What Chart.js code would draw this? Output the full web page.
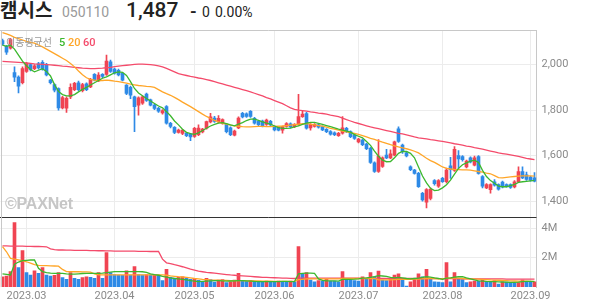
<!DOCTYPE html>
<html>
<head>
<meta charset="utf-8">
<script src="https://cdn.jsdelivr.net/npm/chart.js@4.4.0/dist/chart.umd.min.js"></script>
<style>
  body { margin: 0; background: #fff; width: 594px; height: 304px; overflow: hidden; position: relative; }
  #head { position: absolute; left: 0; top: -3px; white-space: nowrap; font-family: Roboto, sans-serif; color: #222; line-height: 24px; }
  #head span { display: inline-block; }
  #head .name { width: 62px; font-family: 'Noto Sans CJK KR', sans-serif; font-weight: 700; font-size: 19px; }
  #head .code { width: 64px; font-size: 14px; color: #9a9a9a; }
  #head .price { width: 64px; font-size: 21px; font-weight: 500; }
  #head .dash { width: 12px; font-size: 17px; font-weight: 700; }
  #head .chg { font-size: 14px; }
  #legend { position: absolute; left: 6px; top: 33px; white-space: nowrap; line-height: 16px; }
  #legend span { display: inline-block; font-family: Roboto, sans-serif; font-weight: 500; font-size: 11px; }
  #legend .t { width: 53px; font-family: 'Noto Sans CJK KR', sans-serif; font-weight: 400; font-size: 10px; color: #9a9a9a; }
  #mark { position: absolute; left: 5px; top: 195px; font: bold 16px 'Liberation Sans', Arial, sans-serif; color: #c6c6c6; letter-spacing: -0.2px; }
  canvas { position: absolute; left: 0; }
  #priceChart { top: 30px; }
  #volChart { top: 217px; }
</style>
</head>
<body>
<div id="head"><span class="name">캠시스</span><span class="code">050110</span><span class="price">1,487</span><span class="dash">-</span><span class="chg" style="width:13px">0</span><span class="chg">0.00%</span></div>
<canvas id="priceChart" width="594" height="187"></canvas>
<canvas id="volChart" width="594" height="87"></canvas>
<div id="legend"><span class="t">이동평균선</span><span style="width:9px;color:#3cb82e">5</span><span style="width:15px;color:#ffa629">20</span><span style="color:#f44b6b">60</span></div>
<div id="mark">©PAXNet</div>
<script>
// Daily candles, 2023-02-21 .. 2023-09-04 (134 trading days)
const opens = [2105,2080,2072,1965,1945,1920,1970,2000,1982,2003,2010,2000,1932,1912,1895,1810,1808,1858,1890,1920,
  1885,1915,1902,1957,1928,1957,1957,2012,1980,1975,1962,1910,1900,1858,1822,1830,1870,1845,1822,1808,
  1787,1815,1742,1724,1702,1697,1699,1695,1684,1692,1704,1720,1748,1765,1748,1742,1737,1722,1690,1722,
  1786,1784,1795,1764,1750,1752,1737,1750,1728,1725,1712,1728,1740,1727,1737,1771,1785,1722,1728,1735,
  1727,1715,1706,1700,1688,1698,1720,1705,1690,1660,1668,1650,1632,1568,1530,1552,1602,1590,1602,1718,
  1646,1612,1551,1536,1522,1434,1395,1412,1490,1465,1500,1485,1555,1535,1600,1596,1550,1590,1558,1596,
  1508,1458,1450,1485,1472,1484,1472,1472,1462,1485,1530,1515,1505,1502];
const highs = [2112,2085,2115,1990,1950,1990,2010,2005,2000,2010,2018,2005,1935,1915,1898,1860,1858,1915,1922,1928,
  1918,1920,1940,1960,1965,1960,2042,2020,1985,1980,1965,1912,1905,1862,1858,1862,1875,1848,1826,1812,
  1802,1820,1746,1728,1716,1715,1702,1698,1724,1735,1720,1752,1786,1772,1776,1762,1740,1726,1712,1770,
  1790,1788,1798,1768,1754,1756,1760,1755,1732,1729,1730,1745,1744,1741,1869,1796,1790,1741,1741,1739,
  1731,1719,1710,1704,1702,1771,1724,1709,1694,1676,1672,1654,1636,1572,1670,1594,1627,1625,1664,1726,
  1650,1618,1555,1540,1526,1438,1455,1458,1494,1494,1504,1545,1592,1640,1622,1600,1580,1594,1598,1600,
  1512,1477,1476,1495,1476,1488,1476,1476,1490,1551,1550,1528,1509,1525];
const lows = [2085,2045,2068,1925,1875,1915,1965,1972,1978,1980,1975,1950,1915,1880,1800,1805,1790,1850,1885,1885,
  1880,1885,1898,1928,1925,1942,1952,1965,1958,1950,1928,1868,1850,1705,1778,1825,1838,1818,1802,1790,
  1782,1738,1722,1696,1698,1692,1683,1666,1680,1688,1700,1716,1744,1746,1744,1738,1700,1688,1686,1718,
  1766,1768,1768,1738,1732,1726,1733,1730,1708,1708,1698,1725,1722,1723,1733,1768,1716,1712,1725,1721,
  1709,1701,1690,1688,1684,1694,1701,1679,1671,1656,1644,1626,1566,1526,1526,1548,1586,1586,1598,1658,
  1610,1594,1534,1518,1460,1400,1370,1405,1470,1460,1482,1480,1500,1530,1540,1575,1546,1568,1554,1518,
  1458,1454,1435,1466,1448,1458,1461,1456,1458,1481,1498,1491,1488,1484];
const closes = [2090,2055,2110,1945,1905,1982,2005,1978,1995,1985,1980,1955,1920,1888,1810,1855,1852,1900,1918,1890,
  1912,1890,1935,1932,1954,1948,2015,1970,1962,1955,1932,1873,1866,1815,1854,1858,1842,1822,1807,1795,
  1798,1742,1728,1702,1712,1711,1687,1682,1720,1721,1716,1749,1770,1750,1764,1758,1705,1692,1708,1765,
  1770,1772,1772,1742,1736,1730,1756,1735,1713,1712,1727,1741,1726,1737,1771,1782,1720,1737,1737,1725,
  1713,1705,1694,1692,1698,1722,1705,1683,1675,1672,1648,1630,1570,1530,1598,1590,1590,1608,1660,1662,
  1617,1598,1538,1522,1463,1405,1450,1452,1476,1490,1485,1536,1538,1628,1585,1582,1576,1572,1590,1522,
  1465,1473,1472,1470,1452,1462,1465,1460,1485,1530,1502,1495,1492,1487];

// Moving averages as drawn on the chart
const ma5 = [2086,2080,2085,2068,2042,2015,1995,1978,1968,1975,1982,1970,1950,1912,1882,1868,1862,1862,1868,1880,
  1891,1900,1910,1920,1930,1940,1946,1955,1964,1968,1966,1952,1925,1895,1875,1863,1851,1840,1829,1818,
  1810,1793,1775,1752,1735,1716,1702,1696,1693,1700,1710,1720,1730,1737,1743,1745,1740,1735,1731,1738,
  1745,1754,1760,1760,1755,1748,1743,1738,1730,1723,1720,1720,1721,1726,1731,1737,1743,1746,1746,1742,
  1737,1732,1727,1722,1716,1712,1708,1703,1692,1685,1678,1662,1645,1620,1597,1580,1573,1574,1590,1610,
  1618,1618,1610,1590,1550,1510,1480,1456,1446,1448,1458,1472,1492,1518,1544,1560,1568,1576,1580,1570,
  1535,1508,1490,1478,1466,1463,1463,1468,1473,1482,1485,1487,1489,1491];
const ma20 = [2140,2135,2128,2120,2114,2108,2102,2098,2094,2086,2078,2068,2058,2048,2038,2028,2018,2005,1990,1972,
  1955,1942,1935,1932,1930,1930,1932,1930,1927,1925,1922,1918,1914,1911,1908,1906,1904,1903,1900,1890,
  1880,1872,1865,1856,1846,1835,1825,1815,1804,1793,1782,1772,1763,1755,1748,1742,1738,1734,1731,1729,
  1727,1726,1726,1727,1728,1728,1727,1727,1728,1729,1730,1732,1734,1736,1738,1740,1740,1738,1735,1732,
  1729,1725,1720,1716,1712,1708,1704,1701,1698,1693,1688,1682,1676,1671,1665,1659,1654,1648,1643,1638,
  1634,1630,1625,1619,1612,1600,1588,1578,1570,1560,1550,1544,1541,1539,1538,1537,1537,1536,1533,1530,
  1527,1523,1520,1512,1503,1502,1504,1506,1508,1510,1511,1511,1511,1510];
const ma60 = [2014,2013,2012,2011,2010,2009,2007,2005,2003,2002,2001,2000,1999,1997,1995,1993,1992,1990,1988,1986,
  1984,1983,1982,1982,1983,1984,1986,1988,1991,1993,1995,1997,1999,2001,2002,2002,2001,2000,1998,1994,
  1990,1983,1976,1968,1960,1956,1952,1948,1945,1941,1938,1934,1930,1925,1920,1915,1910,1905,1900,1895,
  1890,1885,1880,1874,1868,1862,1855,1849,1842,1835,1828,1819,1810,1803,1800,1798,1795,1792,1790,1787,
  1785,1782,1778,1775,1771,1765,1758,1752,1746,1741,1736,1731,1726,1722,1718,1714,1710,1706,1702,1698,
  1695,1691,1687,1682,1678,1676,1673,1670,1668,1665,1662,1659,1656,1652,1649,1646,1642,1639,1635,1632,
  1628,1624,1620,1616,1612,1609,1606,1603,1600,1596,1592,1588,1585,1582];

// Volume, millions of shares
const volumes = [0.70,0.75,1.05,4.39,1.32,2.48,0.98,0.82,1.11,0.93,1.32,0.82,0.75,0.80,0.98,0.64,0.52,0.98,0.59,0.52,
  0.64,0.70,0.66,0.59,0.98,0.59,2.34,0.98,0.84,0.82,0.80,1.11,0.82,1.39,0.84,0.82,0.84,0.82,0.84,0.82,
  0.43,1.20,0.66,0.61,0.66,0.70,0.61,0.52,0.55,0.45,0.38,0.59,0.50,0.34,0.48,0.50,0.30,0.36,0.48,0.93,
  0.41,0.38,0.45,0.41,0.36,0.34,0.41,0.38,0.36,0.41,0.38,0.36,0.41,0.36,2.75,0.89,0.98,0.48,0.36,0.43,
  0.41,0.52,0.41,0.40,0.36,1.05,0.48,0.45,0.43,0.41,0.70,0.59,0.98,0.70,1.09,0.48,0.43,0.59,0.82,0.89,
  0.52,0.07,0.36,0.59,0.89,0.70,1.20,0.59,0.36,0.34,0.30,1.66,0.36,0.98,0.52,0.50,0.30,0.36,0.41,0.40,
  0.52,0.36,0.34,0.43,0.20,0.36,0.34,0.32,0.25,0.30,0.48,0.36,0.34,0.36];
const volMa5 = [0.89,0.86,0.82,1.55,1.70,1.80,1.82,1.84,1.84,1.27,1.05,0.98,0.95,0.93,0.93,0.93,0.90,0.88,0.88,0.90,
  0.92,0.93,0.93,0.93,0.93,0.95,0.98,1.02,1.05,1.05,1.05,1.05,1.05,1.05,1.05,1.04,1.00,0.90,0.84,0.80,
  0.72,0.68,0.62,0.58,0.55,0.52,0.48,0.44,0.40,0.36,0.38,0.40,0.42,0.43,0.43,0.42,0.40,0.41,0.42,0.43,
  0.43,0.42,0.40,0.38,0.37,0.36,0.36,0.36,0.37,0.37,0.38,0.38,0.37,0.37,0.90,0.93,0.95,0.95,0.93,0.55,
  0.45,0.42,0.42,0.42,0.40,0.52,0.52,0.52,0.53,0.55,0.60,0.62,0.65,0.70,0.78,0.75,0.72,0.65,0.62,0.65,
  0.62,0.58,0.55,0.58,0.60,0.65,0.70,0.68,0.62,0.58,0.52,0.60,0.62,0.68,0.70,0.70,0.62,0.55,0.48,0.42,
  0.40,0.38,0.37,0.36,0.35,0.34,0.33,0.32,0.32,0.33,0.36,0.38,0.38,0.37];
const volMa20 = [2.75,2.40,1.95,1.90,1.85,1.80,1.72,1.62,1.52,1.48,1.46,1.45,1.44,1.43,1.42,1.20,1.05,1.05,1.04,1.04,
  1.03,1.03,1.02,0.90,0.83,0.82,0.82,0.82,0.82,0.82,0.82,0.82,0.82,0.82,0.82,0.82,0.82,0.82,0.82,0.82,
  0.82,0.80,0.76,0.73,0.70,0.68,0.65,0.62,0.58,0.55,0.52,0.50,0.48,0.47,0.46,0.45,0.45,0.44,0.44,0.44,
  0.43,0.42,0.42,0.41,0.41,0.40,0.40,0.40,0.39,0.39,0.39,0.38,0.38,0.38,0.50,0.52,0.55,0.55,0.55,0.55,
  0.55,0.55,0.55,0.56,0.56,0.58,0.58,0.58,0.58,0.58,0.58,0.58,0.58,0.58,0.48,0.48,0.48,0.48,0.50,0.52,
  0.52,0.52,0.52,0.53,0.54,0.55,0.58,0.58,0.58,0.56,0.55,0.60,0.60,0.62,0.60,0.58,0.56,0.55,0.54,0.53,
  0.52,0.50,0.48,0.47,0.46,0.45,0.44,0.42,0.41,0.40,0.40,0.40,0.39,0.38];
const volMa60 = [2.80,2.80,2.79,2.79,2.78,2.78,2.77,2.77,2.76,2.76,2.75,2.74,2.60,2.55,2.52,2.52,2.51,2.51,2.50,2.50,
  2.49,2.49,2.48,2.48,2.47,2.47,2.46,2.46,2.45,2.45,2.45,2.44,2.44,2.44,2.43,2.43,2.43,2.42,2.42,2.42,
  1.90,1.65,1.60,1.52,1.45,1.38,1.30,1.22,1.15,1.08,1.04,1.00,0.97,0.94,0.91,0.88,0.85,0.82,0.80,0.78,
  0.76,0.74,0.72,0.70,0.68,0.66,0.65,0.64,0.63,0.62,0.61,0.60,0.59,0.58,0.60,0.60,0.60,0.60,0.60,0.60,
  0.60,0.60,0.60,0.60,0.60,0.60,0.60,0.60,0.60,0.60,0.59,0.59,0.59,0.59,0.59,0.58,0.58,0.58,0.58,0.58,
  0.58,0.58,0.58,0.58,0.58,0.58,0.58,0.58,0.58,0.57,0.57,0.57,0.57,0.57,0.56,0.56,0.56,0.56,0.56,0.56,
  0.56,0.55,0.55,0.55,0.55,0.55,0.54,0.54,0.54,0.54,0.54,0.53,0.53,0.53];

// Month boundaries (index of first trading day) and their labels
const monthIdx = [6, 28, 48, 68, 89, 110, 132];
const monthText = ['2023.03', '2023.04', '2023.05', '2023.06', '2023.07', '2023.08', '2023.09'];
const priceTicks = [1400, 1600, 1800, 2000];
const volTicks = [2, 4];

const UP = '#f04452';
const DOWN = '#2e8ae6';
const GREEN = '#3cb82e';
const ORANGE = '#ffa629';
const PINK = '#f44b6b';
const GRID = '#ececec';
const TEXT = '#8a8a8a';

const labels = closes.map((_, i) => i);
const candleColor = ctx => closes[ctx.dataIndex] >= opens[ctx.dataIndex] ? UP : DOWN;
const volColor = ctx => {
    const i = ctx.dataIndex;
    return i === 0 || volumes[i] >= volumes[i - 1] ? UP : DOWN;
};
const monthGrid = ctx => monthIdx.includes(ctx.index) ? GRID : 'rgba(0,0,0,0)';

const maLine = (data, color) => ({
    type: 'line', data, borderColor: color, borderWidth: 1.3,
    pointRadius: 0, tension: 0, fill: false
});

// frame lines around the panels
const frame = (topColor) => ({
    id: 'frame',
    afterDraw(chart) {
        const { ctx, chartArea } = chart;
        ctx.save();
        ctx.lineWidth = 1;
        ctx.strokeStyle = topColor;
        ctx.beginPath();
        ctx.moveTo(0, 0.5);
        ctx.lineTo(chartArea.right, 0.5);
        ctx.stroke();
        ctx.strokeStyle = '#c8c8c8';
        ctx.beginPath();
        ctx.moveTo(1.5, 0);
        ctx.lineTo(1.5, chartArea.bottom);
        ctx.stroke();
        ctx.restore();
    }
});

const yAxis = (min, max, ticks, fmt) => ({
    position: 'right', min, max,
    afterBuildTicks: s => { s.ticks = ticks.map(v => ({ value: v })); },
    afterFit: s => { s.width = 57.5; s.paddingTop = 0; s.paddingBottom = 0; },
    grid: { color: GRID, drawTicks: false },
    border: { display: true, color: '#c8c8c8' },
    ticks: { padding: 5, color: TEXT, font: { size: 11, family: 'Roboto' }, callback: fmt }
});

const baseOptions = {
    responsive: false,
    animation: false,
    layout: { autoPadding: false, padding: { left: 0.5, right: 0, top: 0, bottom: 0 } },
    plugins: { legend: { display: false }, tooltip: { enabled: false } }
};

// Price panel
new Chart(document.getElementById('priceChart'), {
    type: 'bar',
    data: {
        labels,
        datasets: [
            maLine(ma5, GREEN),
            maLine(ma20, ORANGE),
            maLine(ma60, PINK),
            {
                data: lows.map((l, i) => [l, highs[i]]),
                backgroundColor: candleColor, barThickness: 1, grouped: false
            },
            {
                data: opens.map((o, i) => [Math.min(o, closes[i]), Math.max(o, closes[i])]),
                backgroundColor: candleColor, barThickness: 3, grouped: false
            }
        ]
    },
    options: {
        ...baseOptions,
        scales: {
            x: {
                offset: true,
                grid: { offset: false, color: monthGrid, drawTicks: false },
                ticks: { display: false, autoSkip: false },
                border: { display: false },
                afterFit: s => { s.height = 0; s.paddingLeft = 0; s.paddingRight = 0; }
            },
            y: yAxis(1330, 2152, priceTicks, v => v.toLocaleString('en-US'))
        }
    },
    plugins: [frame('#c8c8c8')]
});

// Volume panel
new Chart(document.getElementById('volChart'), {
    type: 'bar',
    data: {
        labels,
        datasets: [
            maLine(volMa5, GREEN),
            maLine(volMa20, ORANGE),
            maLine(volMa60, PINK),
            { data: volumes, backgroundColor: volColor, barThickness: 3 }
        ]
    },
    options: {
        ...baseOptions,
        scales: {
            x: {
                offset: true,
                grid: { offset: false, color: monthGrid, drawTicks: false },
                ticks: {
                    autoSkip: false, maxRotation: 0, minRotation: 0, padding: 3,
                    color: TEXT, font: { size: 11, family: 'Roboto' },
                    callback: (v, i) => {
                        const k = monthIdx.indexOf(i);
                        return k >= 0 ? monthText[k] : '';
                    }
                },
                border: { display: false },
                afterFit: s => { s.height = 17; s.paddingLeft = 0; s.paddingRight = 0; }
            },
            y: yAxis(0, 4.77, volTicks, v => v + 'M')
        }
    },
    plugins: [frame('#333333')]
});
</script>
</body>
</html>
